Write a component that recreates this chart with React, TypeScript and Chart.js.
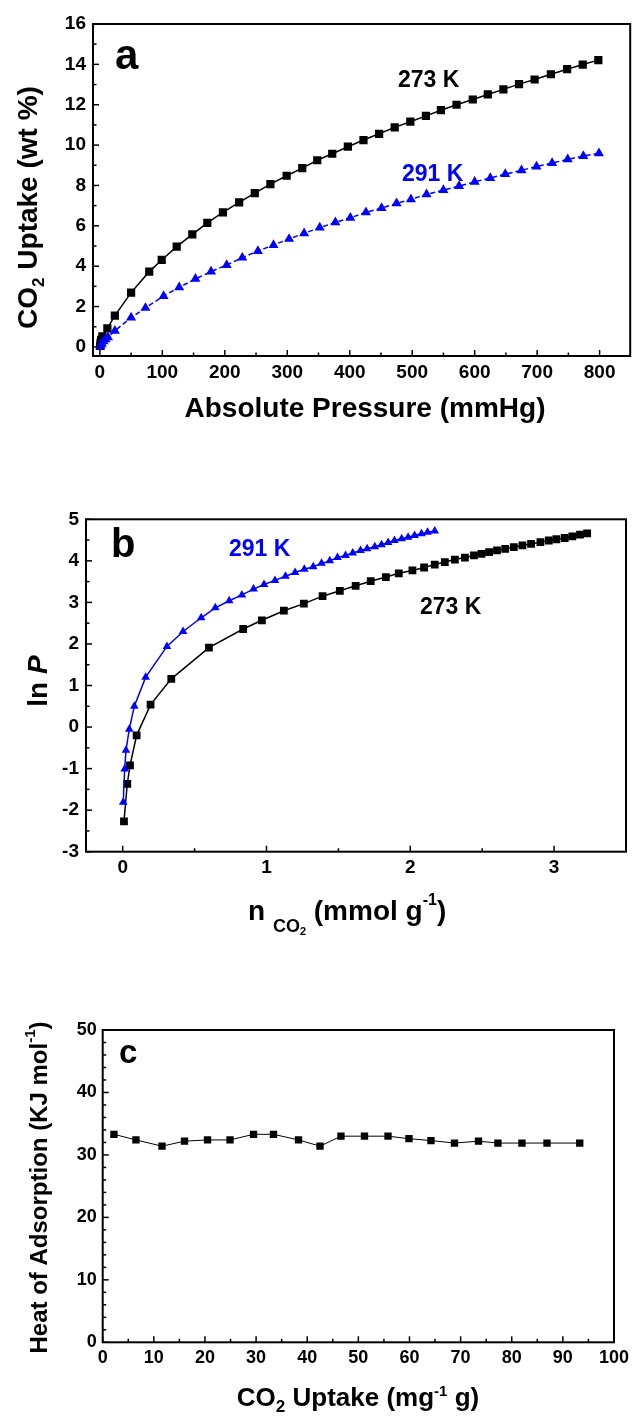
import React, { useEffect, useRef } from 'react';
import { Chart, registerables } from 'chart.js';

Chart.register(...registerables);

const FONT = "'Liberation Sans', Arial, Helvetica, sans-serif";
const BLUE = '#0000FF';
const BLACK = '#000000';

// ---------- Panel a: CO2 uptake vs absolute pressure ----------
const aPressure273 = [0.5, 1, 2, 4, 12, 24, 50, 79, 99, 123, 148, 172, 197, 223, 248, 273, 299, 324, 348, 372, 397, 422, 447, 472, 497, 522, 546, 571, 597, 621, 646, 671, 696, 722, 748, 773, 798];
const aUptake273 = [0.05, 0.2, 0.35, 0.52, 0.92, 1.55, 2.69, 3.73, 4.31, 4.97, 5.58, 6.15, 6.67, 7.16, 7.62, 8.07, 8.48, 8.86, 9.25, 9.57, 9.92, 10.25, 10.56, 10.88, 11.16, 11.45, 11.73, 12.0, 12.26, 12.51, 12.76, 13.02, 13.25, 13.51, 13.76, 13.99, 14.21];
const aPressure291 = [0.5, 1.5, 3, 6, 9, 13, 24, 50, 73, 102, 127, 153, 178, 203, 228, 253, 278, 303, 327, 352, 377, 401, 426, 451, 475, 498, 523, 550, 575, 600, 625, 649, 675, 699, 724, 749, 774, 799];
const aUptake291 = [0.02, 0.1, 0.17, 0.27, 0.38, 0.48, 0.8, 1.45, 1.93, 2.52, 2.95, 3.37, 3.73, 4.06, 4.42, 4.75, 5.05, 5.35, 5.63, 5.91, 6.17, 6.4, 6.67, 6.88, 7.11, 7.31, 7.56, 7.77, 7.97, 8.18, 8.37, 8.56, 8.75, 8.94, 9.11, 9.29, 9.46, 9.59];
const aXTicks = [0, 100, 200, 300, 400, 500, 600, 700, 800];
const aYTicks = [0, 2, 4, 6, 8, 10, 12, 14, 16];

// ---------- Panel b: ln P vs n CO2 ----------
const bN273 = [0.009, 0.032, 0.051, 0.097, 0.194, 0.338, 0.6, 0.838, 0.968, 1.121, 1.26, 1.39, 1.51, 1.62, 1.725, 1.83, 1.92, 2.015, 2.096, 2.17, 2.24, 2.31, 2.38, 2.443, 2.495, 2.548, 2.603, 2.66, 2.72, 2.78, 2.84, 2.905, 2.963, 3.016, 3.074, 3.127, 3.18, 3.23];
const bLnP273 = [-2.27, -1.37, -0.92, -0.2, 0.54, 1.16, 1.91, 2.36, 2.57, 2.8, 2.97, 3.15, 3.28, 3.4, 3.51, 3.61, 3.7, 3.77, 3.84, 3.91, 3.97, 4.03, 4.08, 4.13, 4.17, 4.21, 4.25, 4.29, 4.33, 4.37, 4.41, 4.45, 4.49, 4.52, 4.55, 4.59, 4.63, 4.66];
const bN291 = [0.004, 0.014, 0.023, 0.046, 0.081, 0.16, 0.308, 0.42, 0.546, 0.644, 0.741, 0.829, 0.91, 0.983, 1.059, 1.132, 1.199, 1.263, 1.325, 1.383, 1.44, 1.494, 1.55, 1.6, 1.654, 1.7, 1.753, 1.8, 1.846, 1.89, 1.94, 1.985, 2.03, 2.078, 2.12, 2.17];
const bLnP291 = [-1.81, -1.01, -0.56, -0.05, 0.5, 1.2, 1.94, 2.3, 2.63, 2.87, 3.04, 3.18, 3.32, 3.43, 3.53, 3.63, 3.72, 3.8, 3.86, 3.94, 4.0, 4.08, 4.13, 4.19, 4.25, 4.29, 4.34, 4.39, 4.44, 4.49, 4.53, 4.57, 4.61, 4.65, 4.69, 4.72];
const bXTicks = [0, 1, 2, 3];
const bYTicks = [-3, -2, -1, 0, 1, 2, 3, 4, 5];

// ---------- Panel c: heat of adsorption ----------
const cUptake = [2.2, 6.5, 11.6, 16.0, 20.5, 24.9, 29.5, 33.4, 38.3, 42.5, 46.6, 51.2, 55.8, 59.9, 64.2, 68.8, 73.5, 77.3, 82.0, 86.9, 93.3];
const cHeat = [33.3, 32.4, 31.4, 32.2, 32.4, 32.4, 33.3, 33.3, 32.4, 31.4, 33.0, 33.0, 33.0, 32.6, 32.3, 31.9, 32.2, 31.9, 31.9, 31.9, 31.9];
const cXTicks = [0, 10, 20, 30, 40, 50, 60, 70, 80, 90, 100];
const cYTicks = [0, 10, 20, 30, 40, 50];

type Seg = { t: string; s: number; dy?: number; it?: boolean };
type TextItem = { segs: Seg[]; x: number; y: number; align: 'left' | 'center'; rot?: boolean; color?: string };
type AxisSpec = { min: number; max: number; majors: number[]; parts: number; size: number; pad: number };
type PanelSpec = {
  top: number;
  height: number;
  area: { left: number; top: number; right: number; bottom: number };
  x: AxisSpec;
  y: AxisSpec;
  datasets: any[];
  texts: TextItem[];
};

const pts = (xs: number[], ys: number[]) => xs.map((x, i) => ({ x, y: ys[i] }));

function withMinor(ax: AxisSpec): number[] {
  const m = ax.majors;
  const major = m[1] - m[0];
  const step = major / ax.parts;
  const first = m[0] - major;
  const last = m[m.length - 1] + major;
  const out: number[] = [];
  for (let i = 0; first + i * step <= last + 1e-9; i++) {
    const v = Math.round((first + i * step) * 1e6) / 1e6;
    if (v >= ax.min - 1e-9 && v <= ax.max + 1e-9) out.push(v);
  }
  return out;
}
const isMajor = (majors: number[], v: number) => majors.some((m) => Math.abs(m - v) < 1e-6);

function fontOf(sg: Seg) {
  return `${sg.it ? 'italic ' : ''}bold ${sg.s}px ${FONT}`;
}

function drawRich(ctx: CanvasRenderingContext2D, item: TextItem, offY: number) {
  ctx.save();
  ctx.translate(item.x, item.y - offY);
  if (item.rot) ctx.rotate(-Math.PI / 2);
  ctx.fillStyle = item.color || BLACK;
  ctx.textBaseline = 'alphabetic';
  ctx.textAlign = 'left';
  let total = 0;
  const widths = item.segs.map((sg) => {
    ctx.font = fontOf(sg);
    const w = ctx.measureText(sg.t).width;
    total += w;
    return w;
  });
  let cx = item.align === 'center' ? -total / 2 : 0;
  item.segs.forEach((sg, i) => {
    ctx.font = fontOf(sg);
    ctx.fillText(sg.t, cx, sg.dy || 0);
    cx += widths[i];
  });
  ctx.restore();
}

function makeFramePlugin(p: PanelSpec) {
  return {
    id: 'frame',
    afterDraw(chart: any) {
      const { ctx, chartArea: a } = chart;
      const xs = chart.scales.x;
      const ys = chart.scales.y;
      ctx.save();
      ctx.strokeStyle = BLACK;
      ctx.lineWidth = 1.5;
      xs.ticks.forEach((t: any) => {
        const px = xs.getPixelForValue(t.value);
        const len = isMajor(p.x.majors, t.value) ? 6 : 3.5;
        ctx.beginPath();
        ctx.moveTo(px, a.bottom);
        ctx.lineTo(px, a.bottom - len);
        ctx.stroke();
      });
      ys.ticks.forEach((t: any) => {
        const py = ys.getPixelForValue(t.value);
        const len = isMajor(p.y.majors, t.value) ? 6 : 3.5;
        ctx.beginPath();
        ctx.moveTo(a.left, py);
        ctx.lineTo(a.left + len, py);
        ctx.stroke();
      });
      ctx.lineWidth = 2;
      ctx.strokeRect(a.left, a.top, a.right - a.left, a.bottom - a.top);
      p.texts.forEach((it) => drawRich(ctx, it, p.top));
      ctx.restore();
    },
  };
}

function buildConfig(p: PanelSpec): any {
  const xAll = withMinor(p.x);
  const yAll = withMinor(p.y);
  const tickFont = (size: number) => ({ family: FONT, size, weight: 'bold' as const });
  return {
    type: 'scatter',
    data: { datasets: p.datasets },
    options: {
      animation: false,
      responsive: false,
      maintainAspectRatio: false,
      events: [],
      layout: { padding: { left: 0, right: 636 - p.area.right, top: p.area.top - p.top, bottom: 0 } },
      plugins: { legend: { display: false }, tooltip: { enabled: false } },
      scales: {
        x: {
          type: 'linear',
          position: 'bottom',
          min: p.x.min,
          max: p.x.max,
          grid: { display: false, drawTicks: false },
          border: { display: false },
          afterBuildTicks: (s: any) => {
            s.ticks = xAll.map((v) => ({ value: v }));
          },
          afterFit: (s: any) => {
            s.height = p.top + p.height - p.area.bottom;
          },
          ticks: {
            autoSkip: false,
            maxRotation: 0,
            minRotation: 0,
            padding: p.x.pad,
            color: BLACK,
            font: tickFont(p.x.size),
            callback: (v: number) => (isMajor(p.x.majors, v) ? String(v) : ''),
          },
        },
        y: {
          type: 'linear',
          position: 'left',
          min: p.y.min,
          max: p.y.max,
          grid: { display: false, drawTicks: false },
          border: { display: false },
          afterBuildTicks: (s: any) => {
            s.ticks = yAll.map((v) => ({ value: v }));
          },
          afterFit: (s: any) => {
            s.width = p.area.left;
          },
          ticks: {
            autoSkip: false,
            padding: p.y.pad,
            color: BLACK,
            font: tickFont(p.y.size),
            callback: (v: number) => (isMajor(p.y.majors, v) ? String(v) : ''),
          },
        },
      },
    },
    plugins: [makeFramePlugin(p)],
  };
}

const panelA: PanelSpec = {
  top: 0,
  height: 445,
  area: { left: 93, top: 24, right: 635, bottom: 356 },
  x: { min: -11, max: 849, majors: aXTicks, parts: 2, size: 19, pad: 5 },
  y: { min: -0.45, max: 16, majors: aYTicks, parts: 2, size: 19, pad: 7 },
  datasets: [
    {
      label: '291 K',
      data: pts(aPressure291, aUptake291),
      showLine: true,
      borderColor: BLUE,
      backgroundColor: BLUE,
      borderWidth: 1.5,
      borderDash: [5, 3],
      pointStyle: 'triangle',
      pointRadius: 5.8,
      pointBorderWidth: 0,
      pointBackgroundColor: BLUE,
    },
    {
      label: '273 K',
      data: pts(aPressure273, aUptake273),
      showLine: true,
      borderColor: BLACK,
      backgroundColor: BLACK,
      borderWidth: 1.5,
      pointStyle: 'rect',
      pointRadius: 5.8,
      pointBorderWidth: 0,
      pointBackgroundColor: BLACK,
    },
  ],
  texts: [
    { segs: [{ t: 'a', s: 42 }], x: 115, y: 69, align: 'left' },
    { segs: [{ t: '273 K', s: 23 }], x: 398, y: 87, align: 'left' },
    { segs: [{ t: '291 K', s: 23 }], x: 402, y: 181, align: 'left', color: BLUE },
    { segs: [{ t: 'Absolute Pressure (mmHg)', s: 28 }], x: 365, y: 417, align: 'center' },
    {
      segs: [
        { t: 'CO', s: 28 },
        { t: '2', s: 17, dy: 7 },
        { t: ' Uptake (wt %)', s: 28 },
      ],
      x: 37,
      y: 207.5,
      align: 'center',
      rot: true,
    },
  ],
};

const panelB: PanelSpec = {
  top: 445,
  height: 500,
  area: { left: 86, top: 519.3, right: 626, bottom: 851.7 },
  x: { min: -0.255, max: 3.5, majors: bXTicks, parts: 2, size: 19, pad: 5 },
  y: { min: -3, max: 5, majors: bYTicks, parts: 2, size: 19, pad: 7 },
  datasets: [
    {
      label: '291 K',
      data: pts(bN291, bLnP291),
      showLine: true,
      borderColor: BLUE,
      backgroundColor: BLUE,
      borderWidth: 1.5,
      pointStyle: 'triangle',
      pointRadius: 5,
      pointBorderWidth: 0,
      pointBackgroundColor: BLUE,
    },
    {
      label: '273 K',
      data: pts(bN273, bLnP273),
      showLine: true,
      borderColor: BLACK,
      backgroundColor: BLACK,
      borderWidth: 1.5,
      pointStyle: 'rect',
      pointRadius: 5.5,
      pointBorderWidth: 0,
      pointBackgroundColor: BLACK,
    },
  ],
  texts: [
    { segs: [{ t: 'b', s: 40 }], x: 111, y: 557, align: 'left' },
    { segs: [{ t: '291 K', s: 23 }], x: 229, y: 556, align: 'left', color: BLUE },
    { segs: [{ t: '273 K', s: 23 }], x: 420, y: 614, align: 'left' },
    {
      segs: [
        { t: 'n', s: 28 },
        { t: ' ', s: 28 },
        { t: 'CO', s: 18, dy: 12 },
        { t: '2', s: 11, dy: 15 },
        { t: ' (mmol g', s: 28 },
        { t: '-1', s: 16, dy: -15 },
        { t: ')', s: 28 },
      ],
      x: 248,
      y: 920,
      align: 'left',
    },
    {
      segs: [
        { t: 'ln ', s: 28 },
        { t: 'P', s: 28, it: true },
      ],
      x: 46.7,
      y: 681,
      align: 'center',
      rot: true,
    },
  ],
};

const panelC: PanelSpec = {
  top: 945,
  height: 476,
  area: { left: 102.7, top: 1030, right: 614, bottom: 1342.3 },
  x: { min: 0, max: 100, majors: cXTicks, parts: 2, size: 18, pad: 5 },
  y: { min: 0, max: 50, majors: cYTicks, parts: 5, size: 18, pad: 6 },
  datasets: [
    {
      label: 'Qst',
      data: pts(cUptake, cHeat),
      showLine: true,
      borderColor: BLACK,
      backgroundColor: BLACK,
      borderWidth: 1,
      pointStyle: 'rect',
      pointRadius: 5.2,
      pointBorderWidth: 0,
      pointBackgroundColor: BLACK,
    },
  ],
  texts: [
    { segs: [{ t: 'c', s: 33 }], x: 119, y: 1063, align: 'left' },
    {
      segs: [
        { t: 'Heat of Adsorption (KJ mol', s: 24 },
        { t: '-1', s: 15, dy: -12 },
        { t: ')', s: 24 },
      ],
      x: 46.7,
      y: 1187.5,
      align: 'center',
      rot: true,
    },
    {
      segs: [
        { t: 'CO', s: 26 },
        { t: '2', s: 17, dy: 6 },
        { t: ' Uptake (mg', s: 26 },
        { t: '-1', s: 15, dy: -10 },
        { t: ' g)', s: 26 },
      ],
      x: 358,
      y: 1406,
      align: 'center',
    },
  ],
};

const panels: PanelSpec[] = [panelA, panelB, panelC];

function Panel({ spec }: { spec: PanelSpec }) {
  const ref = useRef<HTMLCanvasElement>(null);
  useEffect(() => {
    if (!ref.current) return;
    const chart = new Chart(ref.current, buildConfig(spec));
    return () => chart.destroy();
  }, [spec]);
  return (
    <canvas
      ref={ref}
      width={636}
      height={spec.height}
      style={{ position: 'absolute', left: 0, top: spec.top, width: 636, height: spec.height, display: 'block' }}
    />
  );
}

export default function App() {
  return (
    <div
      style={{
        position: 'absolute',
        left: 0,
        top: 0,
        width: 636,
        height: 1421,
        background: '#ffffff',
        overflow: 'hidden',
      }}
    >
      {panels.map((p, i) => (
        <Panel key={i} spec={p} />
      ))}
    </div>
  );
}
